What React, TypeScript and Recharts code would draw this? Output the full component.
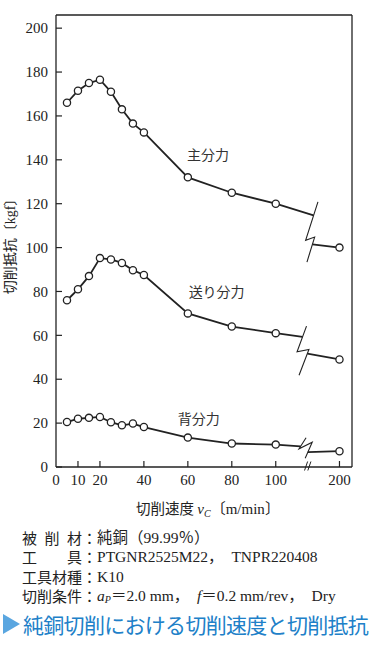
import React from 'react';
import { LineChart, Line, XAxis, YAxis, ReferenceLine, ReferenceDot } from 'recharts';

// ---- data ----
const speeds = [5, 10, 15, 20, 25, 30, 35, 40, 60, 80, 100, 200];
const mainForce = [166, 171.5, 175, 176.5, 171, 163, 156.5, 152.5, 132, 125, 120, 100];
const feedForce = [76, 81, 87, 95.2, 94.6, 93, 89.7, 87.5, 70, 64, 61, 49];
const backForce = [20.5, 22, 22.4, 22.8, 20.4, 19, 19.8, 18.2, 13.4, 10.7, 10.2, 7.2];

const seriesNames = ['主分力', '送り分力', '背分力'];
const xTickValues = [0, 10, 20, 40, 60, 80, 100, 200];
const yTickValues = [0, 20, 40, 60, 80, 100, 120, 140, 160, 180, 200];

// broken axis: 200 m/min is drawn at this axis position
const BROKEN_POS = 129;
const X_MAX = 134.7;
const Y_MAX = 206;
const toAxis = (v: number) => (v > 100 ? BROKEN_POS : v);

// break glyphs (axis units): upper line end, lower line start, glyph polyline
const mainBreak = { upper: [117.2, 114.7], lower: [116.7, 101.5], glyph: [[119.2, 120.8], [113.6, 103.3], [117.7, 104.8], [114.2, 93.4]] };
const feedBreak = { upper: [112.2, 59.3], lower: [114.4, 51.7], glyph: [[114.0, 64.2], [109.7, 52.5], [115.1, 53.6], [110.6, 41.8]] };
const backBreak = { upper: [111.3, 9.4], lower: [114.6, 6.8], glyph: [[113.8, 13.3], [110.6, 8.3], [116.6, 11.3], [113.4, 4.0]] };

// series name label anchors (axis units)
const nameAnchors = [[69.2, 142.2], [73.1, 79.9], [65.0, 21.9]];

const INK = '#222';
const SERIF = '"Liberation Serif", "DejaVu Serif", "Noto Sans CJK JP", serif';
const JP = '"Noto Sans CJK JP", "Noto Sans", sans-serif';

type Brk = { upper: number[]; lower: number[]; glyph: number[][] };

function buildSeries(vals: number[], brk: Brk) {
  const pts = speeds.map((s, i) => ({ x: toAxis(s), y: vals[i] as number | null, real: true }));
  const before = pts.filter((p) => p.x <= 100);
  const after = pts.filter((p) => p.x > 100);
  return [
    ...before,
    { x: brk.upper[0], y: brk.upper[1], real: false },
    { x: (brk.upper[0] + brk.lower[0]) / 2, y: null, real: false },
    { x: brk.lower[0], y: brk.lower[1], real: false },
    ...after,
  ];
}
const glyphData = (brk: Brk) => brk.glyph.map((g) => ({ x: g[0], y: g[1] }));

const renderDot = (props: any) => {
  const { cx, cy, payload, index } = props;
  if (!payload || !payload.real || cy == null || cx == null) return <g key={`n${index}`} />;
  return <circle key={`d${index}`} cx={cx} cy={cy} r={3.6} fill="#fff" stroke={INK} strokeWidth={1.3} />;
};

const YTick = (props: any) => {
  const { x, y, payload } = props;
  const axisX = x + 8;
  return (
    <g>
      <line x1={axisX} x2={axisX + 6} y1={y} y2={y} stroke={INK} strokeWidth={1.2} />
      <text x={x} y={y} dy="0.35em" textAnchor="end" fontFamily={SERIF} fontSize={15} fill="#222">
        {payload.value}
      </text>
    </g>
  );
};

const XTick = (props: any) => {
  const { x, y, payload } = props;
  const axisY = y - 6;
  const idx = xTickValues.map(toAxis).indexOf(payload.value);
  const label = idx >= 0 ? xTickValues[idx] : payload.value;
  return (
    <g>
      {payload.value !== 0 && <line x1={x} x2={x} y1={axisY} y2={axisY - 6} stroke={INK} strokeWidth={1.2} />}
      <text x={x} y={y} dy="0.78em" textAnchor="middle" fontFamily={SERIF} fontSize={15} fill="#222">
        {label}
      </text>
    </g>
  );
};

const XLabel = (props: any) => {
  const vb = props.viewBox || {};
  const cx = vb.x + vb.width / 2 + 4;
  const cy = vb.y + 42;
  return (
    <text x={cx} y={cy} dy="0.35em" textAnchor="middle" fontSize={15} fill="#222" fontFamily={SERIF}>
      <tspan fontFamily={JP} fontSize={14.5}>切削速度 </tspan>
      <tspan fontStyle="italic">v</tspan>
      <tspan fontStyle="italic" fontSize={10} dy="3">C</tspan>
      <tspan dy="-3" fontFamily={JP}>〔</tspan>
      <tspan>m/min</tspan>
      <tspan fontFamily={JP}>〕</tspan>
    </text>
  );
};

const YLabel = (props: any) => {
  const vb = props.viewBox || {};
  const cx = 10;
  const cy = vb.y + vb.height / 2 + 2;
  return (
    <text x={cx} y={cy} dy="0.35em" textAnchor="middle" transform={`rotate(-90 ${cx} ${cy})`} fontSize={14} fill="#222" fontFamily={JP}>
      切削抵抗〔<tspan fontFamily={SERIF}>kgf</tspan>〕
    </text>
  );
};

const seriesDefs = [
  { key: 'main', vals: mainForce, brk: mainBreak },
  { key: 'feed', vals: feedForce, brk: feedBreak },
  { key: 'back', vals: backForce, brk: backBreak },
];

const GAP = '\u2002';
const noteRows: { label: string; value: React.ReactNode }[] = [
  { label: '被削材', value: <>純銅（99.99％）</> },
  { label: '工具', value: <>PTGNR2525M22，{GAP}TNPR220408</> },
  { label: '工具材種', value: <>K10</> },
  {
    label: '切削条件',
    value: (
      <>
        <i>a</i>
        <sub style={{ fontSize: 10, fontStyle: 'italic', verticalAlign: '-2px' }}>P</sub>＝2.0 mm，{GAP}<i>f</i>＝0.2 mm/rev，{GAP}Dry
      </>
    ),
  },
];

const TITLE = '純銅切削における切削速度と切削抵抗';

export default function App() {
  return (
    <div style={{ position: 'absolute', left: 0, top: 0, width: 372, height: 668, background: '#fff', overflow: 'hidden' }}>
      <LineChart width={372} height={520} margin={{ top: 15, right: 20, left: 0, bottom: 0 }}>
        <XAxis
          dataKey="x"
          type="number"
          domain={[0, X_MAX]}
          ticks={xTickValues.map(toAxis)}
          tick={<XTick />}
          tickLine={false}
          tickSize={6}
          tickMargin={0}
          height={53}
          axisLine={{ stroke: INK, strokeWidth: 1.3 }}
          allowDataOverflow
          label={XLabel}
        />
        <YAxis
          type="number"
          domain={[0, Y_MAX]}
          ticks={yTickValues}
          tick={<YTick />}
          tickLine={false}
          tickSize={6}
          tickMargin={2}
          width={56}
          axisLine={{ stroke: INK, strokeWidth: 1.3 }}
          allowDataOverflow
          label={YLabel}
        />
        <ReferenceLine y={Y_MAX} stroke={INK} strokeWidth={1.3} />
        <ReferenceLine x={X_MAX} stroke={INK} strokeWidth={1.3} />
        {seriesDefs.map((s) => (
          <Line
            key={s.key}
            data={buildSeries(s.vals, s.brk)}
            dataKey="y"
            stroke={INK}
            strokeWidth={1.8}
            dot={renderDot}
            activeDot={false}
            isAnimationActive={false}
            connectNulls={false}
          />
        ))}
        {seriesDefs.map((s) => (
          <Line
            key={s.key + '-brk'}
            data={glyphData(s.brk)}
            dataKey="y"
            stroke={INK}
            strokeWidth={1.1}
            dot={false}
            activeDot={false}
            isAnimationActive={false}
          />
        ))}
        <ReferenceLine segment={[{ x: 114.0, y: 0 }, { x: 115.2, y: 0 }]} stroke="#fff" strokeWidth={3} ifOverflow="visible" />
        <ReferenceLine segment={[{ x: 113.1, y: -1.6 }, { x: 114.5, y: 2.5 }]} stroke={INK} strokeWidth={1} ifOverflow="visible" />
        <ReferenceLine segment={[{ x: 114.6, y: -1.6 }, { x: 116.0, y: 2.5 }]} stroke={INK} strokeWidth={1} ifOverflow="visible" />
        {seriesNames.map((n, i) => (
          <ReferenceDot
            key={n}
            x={nameAnchors[i][0]}
            y={nameAnchors[i][1]}
            r={0}
            fill="none"
            stroke="none"
            label={{ value: n, position: 'center', fontSize: 14, fill: '#333', fontFamily: JP }}
          />
        ))}
      </LineChart>

      <div
        style={{
          position: 'absolute',
          left: 22,
          top: 528,
          fontFamily: SERIF,
          fontSize: 15.5,
          lineHeight: '19.3px',
          color: '#222',
        }}
      >
        {noteRows.map((r) => (
          <div key={r.label} style={{ display: 'flex', whiteSpace: 'pre' }}>
            <span style={{ width: 60, display: 'inline-block', textAlign: 'justify', textAlignLast: 'justify', fontFamily: JP, fontSize: 15 }}>
              {r.label}
            </span>
            <span style={{ fontFamily: JP, fontSize: 15 }}>：</span>
            <span>{r.value}</span>
          </div>
        ))}
      </div>

      <div style={{ position: 'absolute', left: 3, top: 612, display: 'flex', alignItems: 'center', whiteSpace: 'nowrap' }}>
        <svg width={19} height={22} style={{ display: 'block' }}>
          <polygon points="0,1 17,11 0,21" fill="#5aa6e0" />
        </svg>
        <span style={{ fontFamily: JP, fontSize: 21, letterSpacing: -0.7, color: '#2080c8', marginLeft: 1, lineHeight: '24px' }}>
          {TITLE}
        </span>
      </div>
    </div>
  );
}
